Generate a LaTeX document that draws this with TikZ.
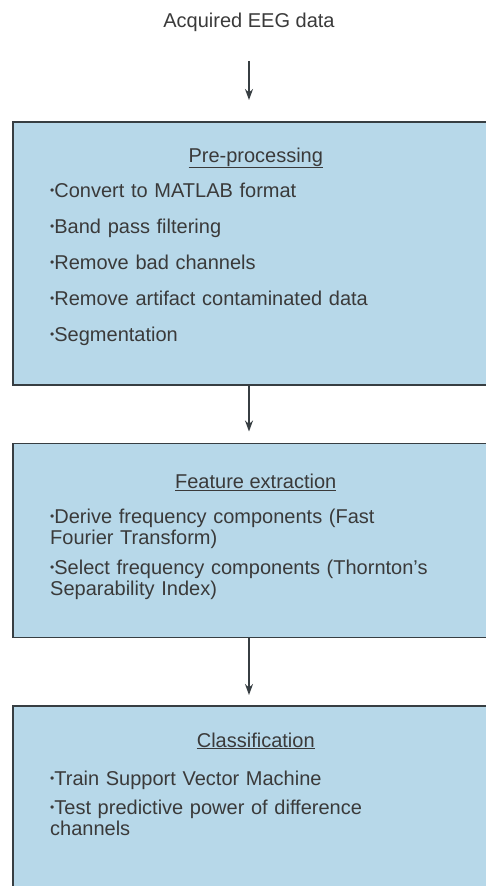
\documentclass[tikz,border=0pt]{standalone}
\usepackage{fontspec}
\usepackage{graphicx}
\setmainfont{Liberation Sans}
\usetikzlibrary{arrows.meta,positioning}

\definecolor{boxblue}{RGB}{183,216,233}
\definecolor{edgegray}{RGB}{55,62,66}
\definecolor{textgray}{RGB}{58,58,58}
\newcommand{\bul}{\raisebox{0.25ex}{\scalebox{0.6}{\textbullet}}}

\begin{document}
\begin{tikzpicture}[
    x=1pt, y=1pt,
    node distance=57pt,
    box/.style={draw=edgegray, line width=1.5pt, fill=boxblue, rectangle, minimum width=486pt, inner sep=0pt},
    head/.style={font=\fontsize{20}{22}\selectfont, text=textgray, inner sep=0pt, anchor=base},
    items/.style={font=\fontsize{20}{21}\selectfont, text=textgray, text width=430pt, align=left, inner sep=0pt, anchor=base west},
    arrow/.style={-{Stealth[length=11pt,width=8pt]}, line width=1.4pt, draw=edgegray}
]
    \useasboundingbox (0,0) rectangle (486,-886);
    \clip (0,0) rectangle (486,-886);

    \node[font=\fontsize{20}{22}\selectfont, text=textgray] (eeg) at (249,-22) {Acquired EEG data};

    \node[box, minimum height=263pt, anchor=north west] (preproc) at (12,-121) {};
    \node[box, minimum height=194pt, below=of preproc] (feat) {};
    \node[box, minimum height=200pt, below=67pt of feat] (classif) {};

    % box texts
    \node[head] (preproc-head) at ([yshift=-41pt]preproc.north) {\underline{Pre-processing}};
    \node[items] (preproc-list) at ([xshift=38pt,yshift=-76pt]preproc.north west) {%
        \bul Convert to MATLAB format\\[15pt]
        \bul Band pass filtering\\[15pt]
        \bul Remove bad channels\\[15pt]
        \bul Remove artifact contaminated data\\[15pt]
        \bul Segmentation};

    \node[head] (feat-head) at ([yshift=-46pt]feat.north) {\underline{Feature extraction}};
    \node[items] (feat-list) at ([xshift=38pt,yshift=-81pt]feat.north west) {%
        \bul Derive frequency components (Fast\\
        Fourier Transform)\\[9pt]
        \bul Select frequency components (Thornton's\\
        Separability Index)};

    \node[head] (classif-head) at ([yshift=-42pt]classif.north) {\underline{Classification}};
    \node[items] (classif-list) at ([xshift=38pt,yshift=-80pt]classif.north west) {%
        \bul Train Support Vector Machine\\[8pt]
        \bul Test predictive power of difference\\
        channels};

    \draw[arrow, shorten <=26pt, shorten >=21pt] (eeg.south) -- (eeg.south |- preproc.north);
    \draw[arrow, shorten >=11pt] (preproc.south -| eeg) -- (feat.north -| eeg);
    \draw[arrow, shorten >=10pt] (feat.south -| eeg) -- (classif.north -| eeg);

\end{tikzpicture}
\end{document}
